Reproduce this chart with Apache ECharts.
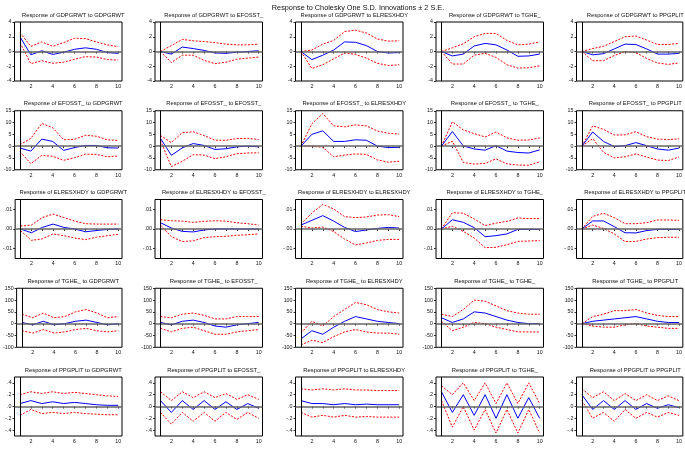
<!DOCTYPE html>
<html><head><meta charset="utf-8">
<script src="https://cdn.jsdelivr.net/npm/echarts@6/dist/echarts.min.js"></script>
<style>html,body{margin:0;padding:0;background:#fff}#c{width:685px;height:450px}</style>
</head><body><div id="c"></div>
<script>
const varNames = ['GDPGRWT', 'EFOSST_', 'ELRESXHDY', 'TGHE_', 'PPGPLIT'];
const periods = [1, 2, 3, 4, 5, 6, 7, 8, 9, 10];
const xTickLabels = [2, 4, 6, 8, 10];

// Row 1: response of GDPGRWT
const gdpMid = [
  [2.0, -0.45, 0.1, -0.4, -0.1, 0.3, 0.5, 0.3, -0.15, -0.25],
  [0, -0.35, 0.6, 0.4, 0.15, -0.2, -0.25, -0.1, 0.0, 0.1],
  [0, -1.1, -0.5, 0.2, 1.3, 1.25, 0.8, 0, -0.2, -0.15],
  [0, -0.6, -0.35, 0.75, 1.1, 0.9, 0.2, -0.65, -0.6, -0.35],
  [0, -0.45, -0.3, 0.35, 1.0, 0.95, 0.35, -0.35, -0.35, -0.25]];
const gdpUp = [
  [2.55, 0.7, 1.3, 0.7, 1.2, 1.8, 1.75, 1.3, 0.9, 0.65],
  [0, 0.8, 1.65, 1.45, 1.35, 1.2, 1.0, 0.9, 0.9, 1.0],
  [0, 0.2, 1.0, 1.5, 2.7, 2.9, 2.5, 1.7, 1.4, 1.45],
  [0, 0.5, 1.05, 2.0, 2.45, 2.45, 1.5, 0.9, 1.0, 1.3],
  [0, 0.4, 0.7, 1.35, 2.0, 2.1, 1.55, 0.95, 0.95, 1.1]];
const gdpLo = [
  [1.2, -1.65, -1.25, -1.6, -1.45, -1.05, -0.7, -0.75, -1.1, -1.15],
  [0, -1.5, -0.5, -0.5, -1.2, -1.65, -1.45, -1.05, -0.9, -0.75],
  [0, -2.3, -1.8, -1.0, -0.2, -0.4, -0.9, -1.6, -1.9, -1.8],
  [0, -1.7, -1.7, -0.5, -0.25, -0.8, -1.8, -2.25, -2.2, -1.95],
  [0, -1.25, -1.25, -0.55, 0, -0.15, -0.95, -1.55, -1.75, -1.55]];

// Row 2: response of EFOSST_
const efoMid = [
  [-0.8, -2.1, 3.0, 2.0, -1.8, -0.6, 0.3, 0.3, -0.7, -0.8],
  [3.3, -3.9, -0.7, 1.1, 0.3, -1.4, -1.1, -0.3, 0, -0.3],
  [0, 5.0, 6.5, 2.0, 2.0, 2.7, 2.5, 0, -0.6, -0.5],
  [0, 6.2, 0.1, -1.2, -1.7, 0.2, -2.1, -2.7, -2.9, -1.6],
  [0, 6.0, 2.0, -0.2, 0.2, 1.5, 0.2, -1.2, -1.7, -0.8]];
const efoUp = [
  [0.6, 3.3, 9.6, 7.8, 2.7, 2.9, 4.6, 4.2, 2.7, 2.4],
  [4.5, 1.5, 5.7, 6.1, 4.5, 2.5, 2.5, 3.2, 3.3, 2.8],
  [0, 9.5, 13.8, 8.6, 8.2, 9.0, 8.6, 6.4, 5.5, 5.1],
  [0, 10.3, 6.9, 5.3, 3.9, 6.0, 3.5, 2.5, 2.6, 3.5],
  [0, 8.6, 7.1, 4.7, 4.8, 6.1, 4.0, 3.0, 2.8, 3.1]];
const efoLo = [
  [-2.4, -7.4, -3.9, -4.3, -6.0, -4.9, -3.4, -3.5, -4.5, -4.2],
  [2.4, -8.7, -6.4, -3.6, -3.8, -5.3, -4.5, -3.2, -2.9, -2.8],
  [0, 0, -0.5, -4.5, -3.8, -3.3, -3.5, -5.8, -6.8, -6.4],
  [0, 2.1, -6.9, -7.6, -7.3, -5.4, -7.5, -8.0, -8.1, -6.6],
  [0, 3.2, -2.6, -5.0, -4.5, -3.3, -4.6, -5.9, -6.1, -4.6]];

// Row 3: response of ELRESXHDY
const elrMid = [
  [0, -0.0019, 0.0008, 0.0025, 0.0008, 0, -0.0014, -0.0008, -0.0002, 0],
  [0.0032, 0.0005, -0.0012, -0.0015, -0.0005, 0, 0, 0, 0, 0],
  [0.002, 0.0044, 0.0068, 0.004, 0.0008, -0.0013, -0.0005, 0.0003, 0.0008, 0.0005],
  [0, 0.0047, 0.0034, 0.0007, -0.0039, -0.0034, -0.0025, -0.0002, -0.0002, -0.0002],
  [0, 0.0041, 0.0041, 0.0012, -0.0019, -0.002, -0.0008, -0.0002, -0.0002, -0.0002]];
const elrUp = [
  [0.0015, 0.002, 0.0058, 0.0076, 0.0058, 0.004, 0.0027, 0.0025, 0.0025, 0.0025],
  [0.0047, 0.0042, 0.004, 0.0034, 0.0039, 0.0042, 0.004, 0.0032, 0.0027, 0.002],
  [0.0024, 0.0081, 0.0125, 0.0102, 0.0063, 0.0058, 0.0061, 0.0071, 0.0073, 0.0063],
  [0, 0.0083, 0.008, 0.0051, 0.0017, 0.003, 0.0039, 0.0056, 0.0053, 0.0053],
  [0, 0.0064, 0.008, 0.0058, 0.0027, 0.0027, 0.0032, 0.0046, 0.0046, 0.0044]];
const elrLo = [
  [-0.0008, -0.0058, -0.005, -0.0025, -0.0034, -0.0046, -0.0054, -0.0042, -0.0034, -0.0027],
  [0.002, -0.0039, -0.0064, -0.006, -0.0044, -0.0039, -0.0037, -0.0032, -0.0029, -0.0025],
  [0.0014, 0.0005, 0.001, -0.0013, -0.0051, -0.0081, -0.0071, -0.0058, -0.0053, -0.0053],
  [0, 0.0014, -0.0012, -0.0046, -0.0095, -0.0093, -0.008, -0.0063, -0.0061, -0.0059],
  [0, 0.002, 0.0003, -0.0025, -0.0064, -0.0063, -0.0051, -0.0044, -0.0042, -0.0042]];

// Row 4: response of TGHE_
const tghMid = [
  [5, -5, 10, -5, 0, 10, 15, 5, -5, 0],
  [5, -5, 10, 15, 5, -10, -15, -5, 0, 5],
  [-65, -30, -45, -15, 10, 30, 20, 10, 5, 0],
  [25, 5, 20, 50, 45, 30, 15, 5, 0, 0],
  [0, 10, 15, 20, 25, 30, 20, 10, 5, 5]];
const tghUp = [
  [40, 25, 45, 25, 30, 50, 60, 45, 25, 30],
  [30, 25, 40, 45, 35, 20, 20, 30, 30, 30],
  [-40, 10, -10, 30, 60, 90, 80, 60, 50, 45],
  [40, 30, 60, 100, 95, 75, 55, 45, 40, 40],
  [0, 30, 40, 55, 55, 60, 45, 35, 30, 30]];
const tghLo = [
  [-30, -40, -25, -40, -35, -25, -20, -30, -35, -30],
  [-20, -35, -20, -15, -30, -45, -45, -35, -30, -25],
  [-90, -70, -80, -55, -35, -25, -35, -40, -40, -45],
  [10, -30, -15, 5, 0, -15, -25, -35, -35, -35],
  [0, -10, -15, -15, -5, 0, -10, -15, -20, -20]];

// Row 5: response of PPGPLIT
const ppgMid = [
  [0.05, 0.1, 0.05, 0.08, 0.05, 0.07, 0.05, 0.03, 0.02, 0.02],
  [0.1, -0.1, 0.1, -0.05, 0.1, -0.05, 0.08, -0.05, 0.05, -0.03],
  [0.1, 0.05, 0.05, 0.03, 0.05, 0.03, 0.04, 0.03, 0.03, 0.03],
  [0.25, -0.1, 0.2, -0.15, 0.2, -0.2, 0.2, -0.2, 0.15, -0.2],
  [0.2, -0.05, 0.1, -0.05, 0.1, -0.05, 0.05, -0.03, 0.03, -0.02]];
const ppgUp = [
  [0.2, 0.25, 0.22, 0.25, 0.22, 0.24, 0.22, 0.2, 0.18, 0.17],
  [0.25, 0.1, 0.25, 0.15, 0.25, 0.15, 0.22, 0.12, 0.2, 0.12],
  [0.3, 0.28, 0.3, 0.28, 0.3, 0.28, 0.28, 0.27, 0.27, 0.27],
  [0.35, 0.2, 0.4, 0.1, 0.4, 0.05, 0.4, 0.05, 0.4, 0.05],
  [0.3, 0.15, 0.25, 0.1, 0.22, 0.1, 0.2, 0.1, 0.18, 0.1]];
const ppgLo = [
  [-0.15, -0.05, -0.12, -0.1, -0.12, -0.1, -0.12, -0.13, -0.14, -0.14],
  [-0.1, -0.3, -0.1, -0.25, -0.1, -0.25, -0.1, -0.22, -0.1, -0.2],
  [-0.1, -0.18, -0.15, -0.18, -0.15, -0.18, -0.17, -0.18, -0.18, -0.18],
  [0.1, -0.35, 0.0, -0.4, -0.05, -0.45, -0.05, -0.45, -0.05, -0.45],
  [0.1, -0.2, -0.1, -0.25, -0.05, -0.2, -0.1, -0.18, -0.1, -0.15]];

const rowsMid = [gdpMid, efoMid, elrMid, tghMid, ppgMid];
const rowsUp = [gdpUp, efoUp, elrUp, tghUp, ppgUp];
const rowsLo = [gdpLo, efoLo, elrLo, tghLo, ppgLo];

const yMin = [-4, -10, -0.015, -100, -0.5];
const yMax = [4, 15, 0.015, 150, 0.5];
const yTicks = [
  [-4, -2, 0, 2, 4],
  [-10, -5, 0, 5, 10, 15],
  [-0.01, 0, 0.01],
  [-100, -50, 0, 50, 100, 150],
  [-0.4, -0.2, 0, 0.2, 0.4]];
const yDigits = [0, 0, 2, 0, 1];

const FONT = "'Liberation Sans Narrow','Liberation Sans',Arial,sans-serif";
function fmt(v, d) {
  if (d === 0) return String(Math.round(v));
  let s = Math.abs(v).toFixed(d).replace(/^0/, '');
  return (v < -1e-12 ? '-' : '') + s;
}

const grids = [], xAxes = [], yAxes = [], series = [], titles = [];
titles.push({ text: 'Response to Cholesky One S.D. Innovations \u00b1 2 S.E.', left: 353, top: -1, textAlign: 'center',
  textStyle: { fontFamily: FONT, fontSize: 7.3, fontWeight: 'normal', color: '#111' } });

for (let r = 0; r < 5; r++) {
  for (let c = 0; c < 5; c++) {
    const i = r * 5 + c;
    const left = 14.5 + 140.5 * c, top = 22 + 88.75 * r, w = 107.5, h = 59;
    grids.push({ left: left, top: top, width: w, height: h, show: true, borderColor: '#000', borderWidth: 1, backgroundColor: 'transparent' });
    titles.push({ text: 'Response of ' + varNames[r] + ' to ' + varNames[c], left: left + w / 2, top: top - 15, textAlign: 'center',
      textStyle: { fontFamily: FONT, fontSize: 5.8, fontWeight: 'normal', color: '#111' } });
    xAxes.push({ type: 'value', gridIndex: i, min: 0.5, max: 10.35,
      axisLine: { show: false },
      axisTick: { show: true, customValues: periods, length: 2, lineStyle: { color: '#000', width: 0.8 } },
      axisLabel: { customValues: xTickLabels, fontSize: 5.3, fontFamily: FONT, color: '#111', margin: 3 },
      splitLine: { show: false } });
    const d = yDigits[r];
    yAxes.push({ type: 'value', gridIndex: i, min: yMin[r], max: yMax[r],
      axisLine: { show: false },
      axisTick: { show: true, customValues: yTicks[r], length: 2, lineStyle: { color: '#000', width: 0.8 } },
      axisLabel: { customValues: yTicks[r], fontSize: 5.3, fontFamily: FONT, color: '#111', margin: 3,
        formatter: v => fmt(v, d) },
      splitLine: { show: false } });
    const pts = a => periods.map((p, k) => [p, a[k]]);
    series.push({ type: 'line', xAxisIndex: i, yAxisIndex: i, data: [], silent: true,
      markLine: { silent: true, symbol: 'none', label: { show: false }, animation: false,
        data: [
          { yAxis: 0, lineStyle: { color: '#666', width: 1.6, type: 'solid' } },
          { xAxis: 1, lineStyle: { color: '#000', width: 1, type: 'solid' } }] } });
    series.push({ type: 'line', xAxisIndex: i, yAxisIndex: i, data: pts(rowsUp[r][c]), showSymbol: false, silent: true,
      lineStyle: { color: '#ff0000', width: 1, type: [2, 1.5] } });
    series.push({ type: 'line', xAxisIndex: i, yAxisIndex: i, data: pts(rowsLo[r][c]), showSymbol: false, silent: true,
      lineStyle: { color: '#ff0000', width: 1, type: [2, 1.5] } });
    series.push({ type: 'line', xAxisIndex: i, yAxisIndex: i, data: pts(rowsMid[r][c]), showSymbol: false, silent: true,
      lineStyle: { color: '#0000ff', width: 1, type: 'solid' } });
  }
}

const chart = echarts.init(document.getElementById('c'), null, { renderer: 'canvas' });
chart.setOption({ animation: false, backgroundColor: '#fff', title: titles, grid: grids, xAxis: xAxes, yAxis: yAxes, series: series });
</script></body></html>
